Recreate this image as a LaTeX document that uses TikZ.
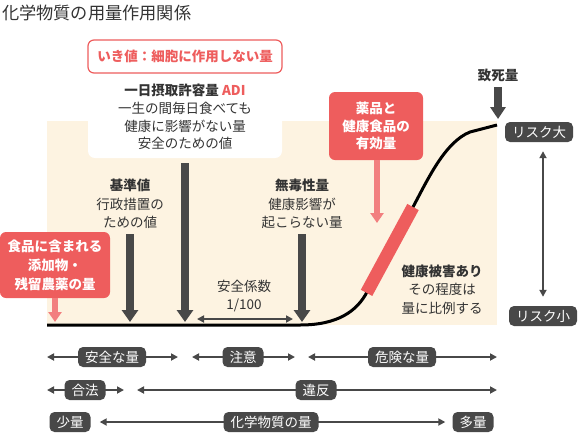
\documentclass[tikz,border=0pt]{standalone}
\usepackage{fontspec}
\setmainfont{Noto Sans CJK JP}
\usetikzlibrary{arrows.meta,calc}
\definecolor{cream}{HTML}{FDF3E1}
\definecolor{myred}{HTML}{EE5D5D}
\definecolor{mypink}{HTML}{F27F7F}
\definecolor{dgray}{HTML}{484848}
\definecolor{txt}{HTML}{333333}
\newcommand\bodyf{\fontsize{13.5}{18.5}\selectfont}
\newcommand\adif{\fontsize{13.5}{17.5}\selectfont}
\begin{document}
\begin{tikzpicture}[x=1pt,y=-1pt,
  bigarrow/.style={draw=dgray, line width=8pt, -{Triangle[width=16pt,length=12pt]}},
  pinkarrow/.style={draw=mypink, line width=6pt, -{Triangle[width=13pt,length=10pt]}},
  thinarrow/.style={draw=dgray, line width=1.8pt, {Triangle[width=7pt,length=7pt]}-{Triangle[width=7pt,length=7pt]}},
  darkbox/.style={fill=dgray, rounded corners=5pt, text=white, minimum height=20pt, inner xsep=7pt, inner ysep=0pt, font=\bodyf},
  redbox/.style={fill=myred, rounded corners=6pt, text=white, align=center, inner sep=0pt},
  lbl/.style={text=txt, align=center, inner sep=0pt, font=\bodyf},
  blbl/.style={text=txt, align=center, inner sep=0pt, font=\bodyf\bfseries}]
\useasboundingbox (0,0) rectangle (581,432);
% background
\fill[cream] (47,121) rectangle (497,325);
\fill[white, rounded corners=7pt] (88,35) rectangle (282,158);
% title
\node[anchor=west, text=txt, inner sep=0pt, font=\fontsize{17.2}{20}\selectfont] (title) at (2,13) {化学物質の用量作用関係};
% threshold box
\node[draw=myred, line width=1.2pt, fill=white, rounded corners=6pt, minimum width=194pt, minimum height=33pt, text=myred, font=\bodyf\bfseries] (ikichi) at (185,56.5) {いき値：細胞に作用しない量};
\node[blbl] (adih) at (185,90) {一日摂取許容量 \textcolor{myred}{ADI}};
\node[lbl, font=\adif] (adit) at (185,126) {一生の間毎日食べても\\健康に影響がない量\\安全のための値};
% labels
\node[blbl] (kijunh) at (130,185) {基準値};
\node[lbl] (kijunt) at (130,213.5) {行政措置の\\ための値};
\node[blbl] (mudokuh) at (302,185) {無毒性量};
\node[lbl] (mudokut) at (302,213.5) {健康影響が\\起こらない量};
\node[lbl] (keisu) at (244,296) {安全係数\\1/100};
\node[blbl] (higaih) at (442,271) {健康被害あり};
\node[lbl] (higait) at (442,299) {その程度は\\量に比例する};
\node[blbl] (chishi) at (498,75) {致死量};
% red boxes
\node[redbox, minimum width=110pt, minimum height=66pt, font=\fontsize{13.5}{19}\selectfont\bfseries] (shokuhin) at (55,265) {食品に含まれる\\添加物・\\残留農薬の量};
\node[redbox, minimum width=94pt, minimum height=68pt, font=\fontsize{13.5}{17.5}\selectfont\bfseries] (yakuhin) at (376,126) {薬品と\\健康食品の\\有効量};
% arrow coordinates
\coordinate (adiS) at (185,163);
\coordinate (adiE) at (185,322);
\coordinate (kijS) at (130,234);
\coordinate (kijE) at (130,322);
\coordinate (mudS) at (302,234);
\coordinate (mudE) at (302,322);
\coordinate (chiS) at (498,87);
\coordinate (chiE) at (498,119);
\coordinate (shoE) at (55,322);
\coordinate (yakE) at (377,223);
\draw[bigarrow] (adiS) -- (adiE);
\draw[bigarrow] (kijS) -- (kijE);
\draw[bigarrow] (mudS) -- (mudE);
\draw[draw=dgray, line width=8pt, -{Triangle[width=15pt,length=12pt]}] (chiS) -- (chiE);
\draw[pinkarrow] (shokuhin.south -| shoE) -- (shoE);
\draw[pinkarrow] (yakuhin.south -| yakE) -- (yakE);
% safety factor arrow
\coordinate (sfL) at (197,319);
\coordinate (sfR) at (293,319);
\draw[thinarrow] (sfL) -- (sfR);
% curve
\coordinate (c0) at (47,325);
\coordinate (c1) at (300,325);
\coordinate (c2) at (367,292);
\coordinate (c3) at (413,207);
\coordinate (c4) at (470,132);
\coordinate (c5) at (497,125);
\draw[line width=3pt, line join=round] (c0) -- (c1) .. controls (338,325) and (357,311) .. (c2) -- (c3) .. controls (428,179) and (445,142) .. (c4) -- (c5);
\draw[myred, line width=13pt] ($(c2)!-0.01!(c3)$) -- (c3);
% risk
\node[darkbox] (riskL) at (539,132) {リスク大};
\node[darkbox] (riskS) at (543,316) {リスク小};
\draw[thinarrow] ([yshift=-9pt]riskL.south -| 543,0) -- ([yshift=9pt]riskS.north -| 543,0);
% bottom rows
\coordinate (r1a) at (47,357); \coordinate (r1b) at (178,357);
\coordinate (r1c) at (192,357); \coordinate (r1d) at (295,357);
\coordinate (r1e) at (308,357); \coordinate (r1f) at (497,357);
\draw[thinarrow] (r1a) -- (r1b);
\draw[thinarrow] (r1c) -- (r1d);
\draw[thinarrow] (r1e) -- (r1f);
\node[darkbox] (anzen) at (112,357) {安全な量};
\node[darkbox] (chui) at (243,357) {注意};
\node[darkbox] (kiken) at (402,357) {危険な量};
\coordinate (r2a) at (47,390); \coordinate (r2b) at (124,390);
\coordinate (r2c) at (137,390); \coordinate (r2d) at (497,390);
\draw[thinarrow] (r2a) -- (r2b);
\draw[thinarrow] (r2c) -- (r2d);
\node[darkbox] (gouhou) at (85,390) {合法};
\node[darkbox] (ihan) at (316,390) {違反};
\node[darkbox] (shoryo) at (70,422) {少量};
\node[darkbox] (taryo) at (473,422) {多量};
\draw[thinarrow] ([xshift=9pt]shoryo.east) -- ([xshift=-7pt]taryo.west);
\node[darkbox] (ryo) at (271,422) {化学物質の量};
\end{tikzpicture}
\end{document}
